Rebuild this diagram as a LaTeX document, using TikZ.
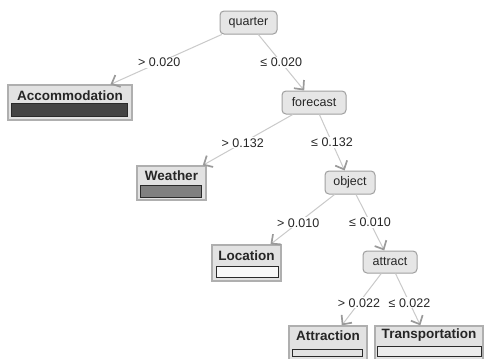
\documentclass[tikz,border=0pt]{standalone}
\usepackage{fontspec}
\setmainfont{Liberation Sans}
\usetikzlibrary{arrows.meta,calc}
\definecolor{innerfill}{HTML}{E6E6E6}
\definecolor{innerdraw}{HTML}{A0A0A0}
\definecolor{leaffill}{HTML}{E2E2E2}
\definecolor{leafdraw}{HTML}{AFAFAF}
\definecolor{linegray}{HTML}{CACACA}
\definecolor{arrowgray}{HTML}{9A9A9A}
\definecolor{bardraw}{HTML}{2A2A2A}
\definecolor{textgray}{HTML}{262626}
\tikzset{
  innernode/.style={draw=innerdraw, fill=innerfill, line width=1pt, rounded corners=4pt,
    minimum height=23pt, inner sep=0pt, text=textgray, font=\fontsize{12.5}{14}\selectfont},
  leafbox/.style={draw=leafdraw, fill=leaffill, line width=1.3pt, inner sep=0pt},
  leaftitle/.style={inner sep=0pt, text=textgray, font=\fontsize{13.5}{15}\selectfont\bfseries},
  barbox/.style={draw=bardraw, line width=1pt, inner sep=0pt},
  edgeline/.style={draw=linegray, line width=1pt,
    -{Straight Barb[length=7pt,width=13pt,line width=1.7pt,color=arrowgray]}},
  edgelabel/.style={fill=white, inner sep=1pt, text=textgray, font=\fontsize{12.5}{14}\selectfont}
}
\begin{document}
\begin{tikzpicture}[x=1pt,y=-1pt]
\useasboundingbox (0,0) rectangle (485,359);
\fill[white] (0,0) rectangle (485,359);
% inner nodes
\node[innernode, minimum width=57pt] (quarter) at (248.5,22.5) {quarter};
\node[innernode, minimum width=64pt] (forecast) at (314,102.5) {forecast};
\node[innernode, minimum width=50pt] (object) at (350,182.5) {object};
\node[innernode, minimum width=54pt, minimum height=22pt] (attract) at (390,262) {attract};
% leaves
\node[leafbox, minimum width=124pt, minimum height=35pt] (accom) at (70,102.5) {};
\node[leaftitle] (accomt) at (70,96) {Accommodation};
\node[barbox, fill={rgb,255:red,68;green,68;blue,68}, minimum width=116pt, minimum height=13pt] (accombar) at (69,109.5) {};

\node[leafbox, minimum width=69pt, minimum height=34pt] (weather) at (171.5,183) {};
\node[leaftitle] (weathert) at (171.5,175.5) {Weather};
\node[barbox, fill={rgb,255:red,128;green,128;blue,128}, minimum width=61pt, minimum height=12pt] (weatherbar) at (170.5,191) {};

\node[leafbox, minimum width=69pt, minimum height=36pt] (location) at (246.5,263) {};
\node[leaftitle] (locationt) at (246.5,255.5) {Location};
\node[barbox, fill={rgb,255:red,248;green,248;blue,248}, minimum width=62pt, minimum height=11pt] (locationbar) at (247,271.5) {};

\node[leafbox, minimum width=78pt, minimum height=35pt] (attraction) at (328,343.5) {};
\node[leaftitle] (attractiont) at (328,335.5) {Attraction};
\node[barbox, fill={rgb,255:red,226;green,226;blue,226}, minimum width=70pt, minimum height=7pt] (attractionbar) at (327.5,352.5) {};

\node[leafbox, minimum width=108pt, minimum height=35pt] (transport) at (429,343.5) {};
\node[leaftitle] (transportt) at (429,335.5) {Transportation};
\node[barbox, fill={rgb,255:red,236;green,236;blue,236}, minimum width=104pt, minimum height=10pt] (transportbar) at (429,351) {};
% edges
\draw[edgeline] (quarter) -- (accom);
\draw[edgeline] (quarter) -- (forecast);
\draw[edgeline] (forecast) -- (weather);
\draw[edgeline] (forecast) -- (object);
\draw[edgeline] (object) -- (location);
\draw[edgeline] (object) -- (attract);
\draw[edgeline] (attract) -- (attraction);
\draw[edgeline] (attract) -- (transport);
% labels
\node[edgelabel] (l1) at ($(quarter)!0.5!(accom)$) {> 0.020};
\node[edgelabel] (l2) at ($(quarter)!0.5!(forecast)$) {≤ 0.020};
\node[edgelabel] (l3) at ($(forecast)!0.5!(weather)$) {> 0.132};
\node[edgelabel] (l4) at ($(forecast)!0.5!(object)$) {≤ 0.132};
\node[edgelabel] (l5) at ($(object)!0.5!(location)$) {> 0.010};
\node[edgelabel] (l6) at ($(object)!0.5!(attract)$) {≤ 0.010};
\node[edgelabel] (l7) at ($(attract)!0.5!(attraction)$) {> 0.022};
\node[edgelabel] (l8) at ($(attract)!0.5!(transport)$) {≤ 0.022};
\end{tikzpicture}
\end{document}
